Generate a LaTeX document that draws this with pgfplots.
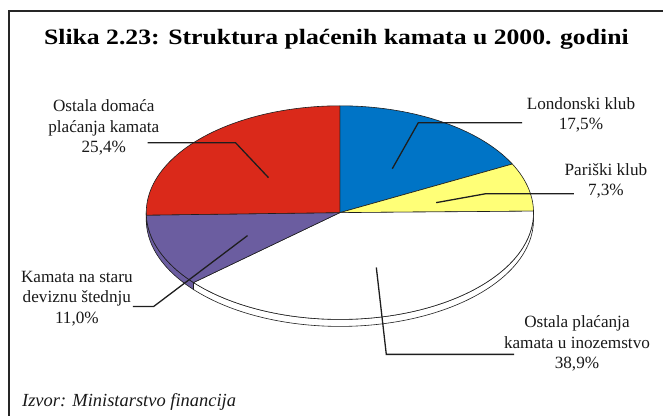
\documentclass[border=0pt]{standalone}
\usepackage{fontspec}
\setmainfont{Liberation Serif}
\usepackage{pgfplots}
\usepackage{pgfplotstable}
\pgfplotsset{compat=1.18}

\definecolor{cRed}{RGB}{218,41,26}
\definecolor{cBlue}{RGB}{0,116,198}
\definecolor{cYellow}{RGB}{255,255,119}
\definecolor{cPurple}{RGB}{107,93,160}
\definecolor{cLine}{RGB}{30,30,30}

\pgfplotstableread{
label value
London 17.5
Paris 7.3
Foreign 38.9
Savings 11.0
Domestic 25.4
}\piedata

\pgfplotstablegetelem{0}{value}\of\piedata \let\pA\pgfplotsretval
\pgfplotstablegetelem{1}{value}\of\piedata \let\pB\pgfplotsretval
\pgfplotstablegetelem{2}{value}\of\piedata \let\pC\pgfplotsretval
\pgfplotstablegetelem{3}{value}\of\piedata \let\pD\pgfplotsretval
\pgfplotstablegetelem{4}{value}\of\piedata \let\pE\pgfplotsretval

\pgfmathsetmacro\tot{\pA+\pB+\pC+\pD+\pE}
\pgfmathsetmacro\aA{90}
\pgfmathsetmacro\aB{\aA-360*\pA/\tot}
\pgfmathsetmacro\aC{\aB-360*\pB/\tot}
\pgfmathsetmacro\aD{\aC-360*\pC/\tot}
\pgfmathsetmacro\aE{\aD-360*\pD/\tot}
\pgfmathsetmacro\aF{\aE-360*\pE/\tot}

\def\cx{340.5}
\def\cy{204}

\tikzset{pie/.style={x radius=194pt, y radius=107pt}}

\begin{document}
\begin{tikzpicture}
\begin{axis}[x=1pt, y=1pt, xmin=0, xmax=664, ymin=0, ymax=417,
  hide axis, clip=false, scale only axis]
\path (axis cs:0,0) rectangle (axis cs:664,417);
% frame
\draw[line width=2.4pt, black!85] (axis cs:664,406) -- (axis cs:9,406) -- (axis cs:9,0);

% side bands
\filldraw[fill=white, draw=cLine, line width=0.6pt]
  (axis cs:\cx,\cy) ++(0:194pt and 107pt) arc[start angle=0, end angle=\aD, pie]
  -- ++(0,-7pt) arc[start angle=\aD, end angle=0, pie] -- cycle;
\filldraw[fill=cPurple, draw=cLine, line width=0.6pt]
  (axis cs:\cx,\cy) ++(\aD:194pt and 107pt) arc[start angle=\aD, end angle=\aE, pie]
  -- ++(0,-7pt) arc[start angle=\aE, end angle=\aD, pie] -- cycle;
\filldraw[fill=cRed, draw=cLine, line width=0.6pt]
  (axis cs:\cx,\cy) ++(\aE:194pt and 107pt) arc[start angle=\aE, end angle=-180, pie]
  -- ++(0,-7pt) arc[start angle=-180, end angle=\aE, pie] -- cycle;

% top faces
\filldraw[fill=cBlue, draw=cLine, line width=0.6pt] (axis cs:\cx,\cy) -- ++(\aA:194pt and 107pt)
  arc[start angle=\aA, end angle=\aB, pie] -- cycle;
\filldraw[fill=cYellow, draw=cLine, line width=0.6pt] (axis cs:\cx,\cy) -- ++(\aB:194pt and 107pt)
  arc[start angle=\aB, end angle=\aC, pie] -- cycle;
\filldraw[fill=white, draw=cLine, line width=0.6pt] (axis cs:\cx,\cy) -- ++(\aC:194pt and 107pt)
  arc[start angle=\aC, end angle=\aD, pie] -- cycle;
\filldraw[fill=cPurple, draw=cLine, line width=0.6pt] (axis cs:\cx,\cy) -- ++(\aD:194pt and 107pt)
  arc[start angle=\aD, end angle=\aE, pie] -- cycle;
\filldraw[fill=cRed, draw=cLine, line width=0.6pt] (axis cs:\cx,\cy) -- ++(\aE:194pt and 107pt)
  arc[start angle=\aE, end angle=\aF, pie] -- cycle;

% leader lines
\draw[line width=1.3pt, cLine] (axis cs:148,274) -- (axis cs:236,274) -- (axis cs:269,239);
\draw[line width=1.3pt, cLine] (axis cs:523,294) -- (axis cs:419,294) -- (axis cs:393,248);
\draw[line width=1.3pt, cLine] (axis cs:575,223) -- (axis cs:487,223) -- (axis cs:437,214);
\draw[line width=1.3pt, cLine] (axis cs:133,110) -- (axis cs:154,110) -- (axis cs:248,181);
\draw[line width=1.3pt, cLine] (axis cs:515,62) -- (axis cs:387,62) -- (axis cs:377,149);

% title
\node[font=\fontsize{22}{26}\selectfont\bfseries\addfontfeature{FakeStretch=1.17}] at (axis cs:337,378)
  {Slika 2.23: Struktura plaćenih kamata u 2000. godini};

% labels
\tikzset{lab/.style={align=center, font=\fontsize{17.2}{20.5}\selectfont, text=black!90, inner sep=0pt}}
\node[lab] at (axis cs:104,289) {Ostala domaća\\plaćanja kamata\\25,4\%};
\node[lab] at (axis cs:582,302) {Londonski klub\\17,5\%};
\node[lab] at (axis cs:607,236) {Pariški klub\\7,3\%};
\node[lab] at (axis cs:77,118) {Kamata na staru\\deviznu štednju\\11,0\%};
\node[lab] at (axis cs:578,73) {Ostala plaćanja\\kamata u inozemstvo\\38,9\%};

% source
\node[anchor=base west, font=\fontsize{18.5}{20}\selectfont\itshape, text=black!90, inner sep=0pt]
  at (axis cs:22,10) {Izvor: Ministarstvo financija};
\end{axis}
\end{tikzpicture}
\end{document}
